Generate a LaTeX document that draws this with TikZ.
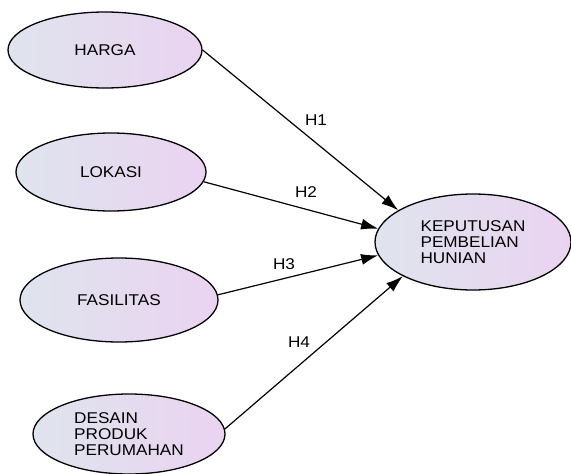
\documentclass[tikz,border=0pt]{standalone}
\usepackage{fontspec}
\setmainfont{Liberation Sans}[FakeStretch=1.1]
\usetikzlibrary{shapes.geometric,arrows.meta}

\definecolor{fillleft}{HTML}{DFE4ED}
\definecolor{fillright}{HTML}{EAD3F1}

\tikzset{
    varbox/.style={ellipse, draw=black, line width=1.3pt, inner sep=0pt,
        left color=fillleft, right color=fillright,
        font=\fontsize{15.6}{16}\selectfont, align=left},
    hyparrow/.style={-{Latex[length=17pt,width=11pt]}, line width=1.2pt},
    hyplabel/.style={font=\fontsize{15.6}{16}\selectfont, inner sep=0pt}
}

\begin{document}
\begin{tikzpicture}[x=1pt,y=-1pt]
                    \useasboundingbox (0,0) rectangle (571,474);

                    \node[varbox, minimum width=194pt, minimum height=76pt] (harga) at (105,50) {HARGA};
                    \node[varbox, minimum width=190pt, minimum height=78pt] (lokasi) at (111,172) {LOKASI};
                    \node[varbox, minimum width=198pt, minimum height=84pt] (fasilitas) at (119,300) {FASILITAS};
                    \node[varbox, minimum width=192pt, minimum height=80pt] (desain) at (129,434) {DESAIN\\PRODUK\\PERUMAHAN};
                    \node[varbox, minimum width=196pt, minimum height=96pt] (keputusan) at (473,242) {KEPUTUSAN\\PEMBELIAN\\HUNIAN};

                    \draw[hyparrow] (harga.east) -- (keputusan.157);
                    \draw[hyparrow] (lokasi.-6) -- (keputusan.172);
                    \draw[hyparrow] (fasilitas.3) -- (keputusan.188);
                    \draw[hyparrow] (desain.3) -- (keputusan.206);

                    \node[hyplabel] (h1) at (316,120) {H1};
                    \node[hyplabel] (h2) at (306,192) {H2};
                    \node[hyplabel] (h3) at (284,264) {H3};
                    \node[hyplabel] (h4) at (299,342) {H4};

                \end{tikzpicture}
\end{document}
